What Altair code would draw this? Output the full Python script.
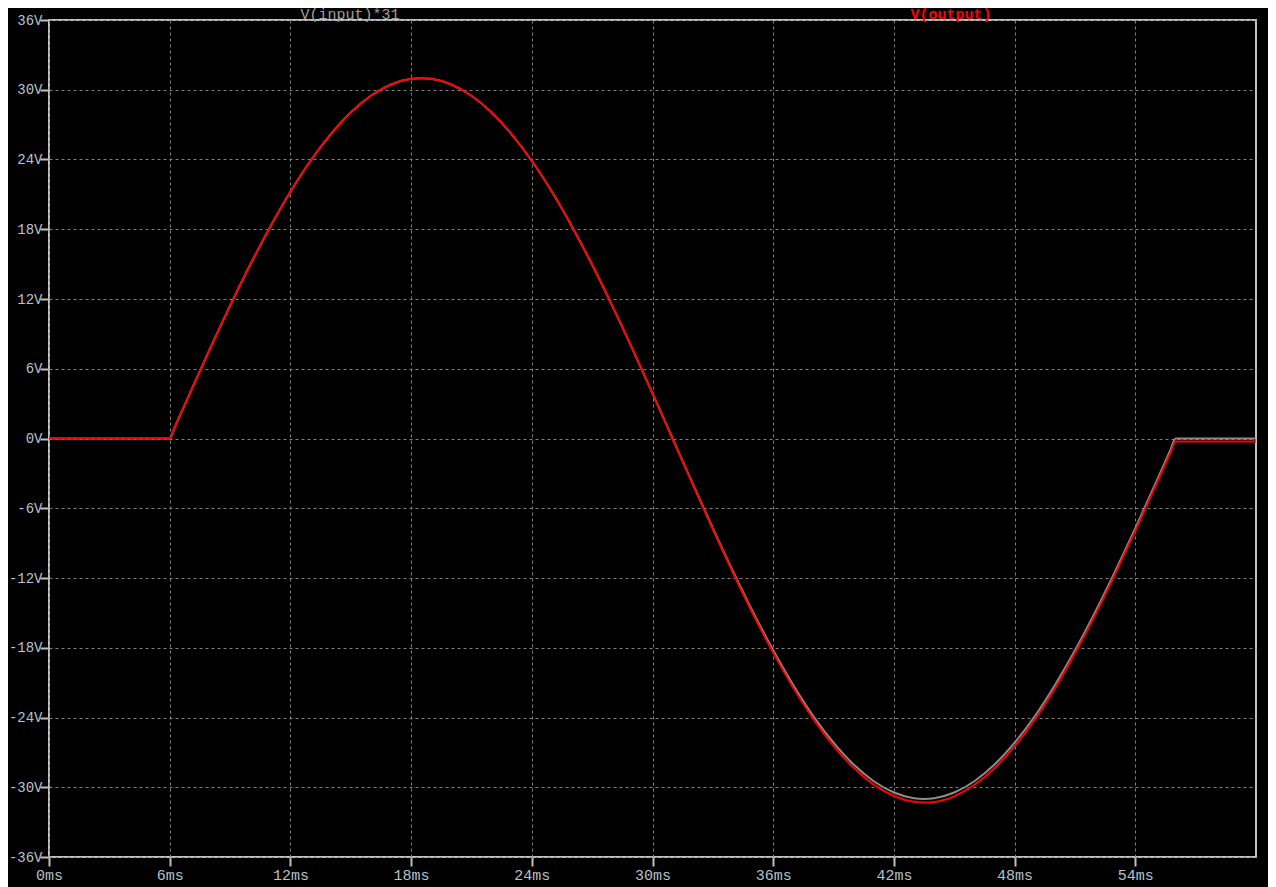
import altair as alt
import pandas as pd

# time in ms
time_ms = [0, 6, 6.25, 7, 8, 9, 10, 11, 12, 13, 14, 15, 16, 17, 18, 18.5, 19, 20, 21, 22,
           23, 24, 25, 26, 27, 28, 29, 30, 31, 32, 33, 34, 35, 36, 37, 38, 39, 40, 41, 42,
           43, 43.5, 44, 45, 46, 47, 48, 49, 50, 51, 52, 53, 54, 55, 55.75, 56, 60]

# V(input)*31
v_input31 = [0, 0, 0.97, 3.88, 7.71, 11.41, 14.94, 18.22, 21.22, 23.89, 26.17, 28.05,
             29.48, 30.45, 30.94, 31.0, 30.94, 30.45, 29.48, 28.05, 26.17, 23.89, 21.22,
             18.22, 14.94, 11.41, 7.71, 3.88, 0, -3.88, -7.71, -11.41, -14.94, -18.22,
             -21.22, -23.89, -26.17, -28.05, -29.48, -30.45, -30.94, -31.0, -30.94,
             -30.45, -29.48, -28.05, -26.17, -23.89, -21.22, -18.22, -14.94, -11.41,
             -7.71, -3.88, -0.97, 0, 0]

# V(output)
v_output = [0, 0, 0.97, 3.88, 7.71, 11.41, 14.94, 18.22, 21.22, 23.89, 26.17, 28.05,
            29.48, 30.45, 30.94, 31.0, 30.94, 30.45, 29.48, 28.05, 26.17, 23.89, 21.22,
            18.22, 14.94, 11.41, 7.71, 3.88, -0.05, -3.95, -7.82, -11.55, -15.12, -18.42,
            -21.45, -24.14, -26.44, -28.33, -29.77, -30.75, -31.25, -31.31, -31.26,
            -30.78, -29.80, -28.36, -26.47, -24.18, -21.50, -18.48, -15.19, -11.64,
            -7.94, -4.10, -1.22, -0.25, -0.25]

x_ticks = [0, 6, 12, 18, 24, 30, 36, 42, 48, 54]
y_ticks = [-36, -30, -24, -18, -12, -6, 0, 6, 12, 18, 24, 30, 36]

df = pd.DataFrame({"t": time_ms, "vin": v_input31, "vout": v_output})

FONT = "Liberation Mono"
LABEL = "#b8c2cc"

x_enc = alt.X("t:Q", scale=alt.Scale(domain=[0, 60], nice=False, zero=False),
              axis=alt.Axis(values=x_ticks, labelExpr="datum.value + 'ms'", title=None,
                            grid=True, gridColor="#808080", gridDash=[3, 3], gridWidth=1,
                            domain=False, tickColor="#c0c0c0", tickWidth=2, tickSize=9,
                            labelColor=LABEL, labelFont=FONT, labelFontSize=15,
                            labelPadding=1, labelFlush=False, labelOverlap=False))

def y_enc(field):
    return alt.Y(f"{field}:Q", scale=alt.Scale(domain=[-36, 36], nice=False, zero=False),
                 axis=alt.Axis(values=y_ticks, labelExpr="datum.value + 'V'", title=None,
                               grid=True, gridColor="#808080", gridDash=[3, 3], gridWidth=1,
                               domain=False, tickColor="#c0c0c0", tickWidth=2, tickSize=9,
                               labelColor=LABEL, labelFont=FONT, labelFontSize=14,
                               labelPadding=-2, labelFlush=False, labelOverlap=False))

base = alt.Chart(df)

gray_line = base.mark_line(color="#8c8c8c", strokeWidth=2, interpolate="monotone").encode(
    x=x_enc, y=y_enc("vin"))
red_line = base.mark_line(color="#ff0000", strokeWidth=2, interpolate="monotone").encode(
    x=alt.X("t:Q"), y=alt.Y("vout:Q"))

lab_df = pd.DataFrame({"name": ["V(input)*31"]})
lab_in = alt.Chart(lab_df).mark_text(font=FONT, fontSize=15, color="#a0a0a0",
                                     align="center", baseline="top").encode(
    text="name:N", x=alt.value(301), y=alt.value(-13))
lab_df2 = pd.DataFrame({"name": ["V(output)"]})
lab_out = alt.Chart(lab_df2).mark_text(font=FONT, fontSize=15, color="#ff0000",
                                       fontWeight="bold", align="center",
                                       baseline="top").encode(
    text="name:N", x=alt.value(902), y=alt.value(-13))

chart = alt.layer(gray_line, red_line, lab_in, lab_out).properties(
    width=1207, height=837,
    autosize=alt.AutoSizeParams(type="none"),
    padding={"left": 41, "top": 12, "right": 12, "bottom": 30},
    background="#000000",
).configure_view(stroke="#c0c0c0", strokeWidth=2)

chart.save("out.html", embed_options={"renderer": "svg", "actions": False})
